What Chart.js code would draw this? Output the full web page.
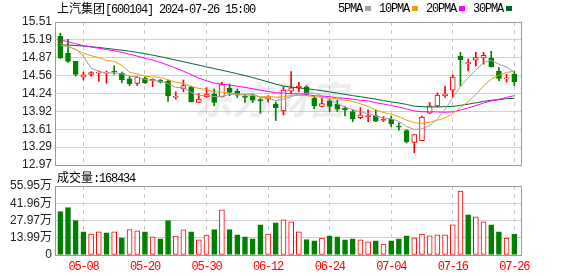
<!DOCTYPE html>
<html><head><meta charset="utf-8">
<script src="https://cdn.jsdelivr.net/npm/chart.js@4.4.1/dist/chart.umd.min.js"></script>
<style>
html,body{margin:0;padding:0;background:#fff;width:578px;height:276px;overflow:hidden}
#wrap{position:relative;width:578px;height:276px}
canvas{position:absolute;left:0;top:0}
.t{position:absolute;font-size:12px;line-height:14px;white-space:nowrap;color:#000}
.cn{font-family:"Noto Sans CJK SC"}
.m{font-family:"Liberation Mono";letter-spacing:-1.2px}
.sq{display:inline-block;width:6px;height:5px;margin:0 8px 2px 3px;vertical-align:middle}
</style></head><body>
<div id="wrap">
<canvas id="pc" width="578" height="276"></canvas>
<canvas id="vc" width="578" height="276"></canvas>
<div class="t" id="title" style="left:57px;top:1px"></div>
<div class="t" id="legend" style="left:338px;top:1px"></div>
<div class="t" id="volLabel" style="left:57px;top:170px"></div>
</div>
<script>
const stockName = '上汽集团';
const stockCode = '600104';
const stamp = '2024-07-26 15:00';
const lastVolume = 168434;

const dates = ['04-30','05-06','05-07','05-08','05-09','05-10','05-13','05-14','05-15','05-16',
  '05-17','05-20','05-21','05-22','05-23','05-24','05-27','05-28','05-29','05-30',
  '05-31','06-03','06-04','06-05','06-06','06-07','06-11','06-12','06-13','06-14',
  '06-17','06-18','06-19','06-20','06-21','06-24','06-25','06-26','06-27','06-28',
  '07-01','07-02','07-03','07-04','07-05','07-08','07-09','07-10','07-11','07-12',
  '07-15','07-16','07-17','07-18','07-19','07-22','07-23','07-24','07-25','07-26'];

const open = [15.26,14.96,14.81,14.53,14.58,14.60,14.60,14.64,14.60,14.50,
  14.42,14.51,14.47,14.48,14.46,14.17,14.32,14.36,14.08,14.18,
  14.23,14.18,14.33,14.28,14.19,14.20,14.13,14.14,14.05,13.93,
  14.28,14.34,14.36,14.16,14.01,14.11,14.05,13.98,13.92,13.81,
  13.83,13.85,13.76,13.78,13.66,13.58,13.37,13.40,13.89,14.02,
  14.20,14.30,14.90,14.77,14.83,14.87,14.87,14.64,14.50,14.58];
const close = [14.87,14.81,14.58,14.57,14.61,14.62,14.62,14.62,14.48,14.41,
  14.53,14.43,14.49,14.44,14.20,14.19,14.38,14.09,14.14,14.23,
  14.08,14.40,14.26,14.21,14.17,14.12,14.11,14.18,13.99,14.30,
  14.34,14.37,14.23,14.02,14.06,14.01,13.96,13.95,13.79,13.86,
  13.85,13.75,13.78,13.70,13.64,13.38,13.51,13.82,14.02,14.21,
  14.23,14.53,14.84,14.78,14.88,14.92,14.71,14.51,14.52,14.45];
const high = [15.31,15.20,14.81,14.62,14.63,14.64,14.64,14.73,14.62,14.54,
  14.54,14.54,14.50,14.49,14.48,14.27,14.48,14.37,14.24,14.34,
  14.32,14.44,14.41,14.32,14.23,14.23,14.15,14.20,14.09,14.36,
  14.63,14.44,14.38,14.20,14.15,14.14,14.12,14.01,13.95,13.99,
  13.95,13.95,13.83,13.84,13.72,13.60,13.51,13.84,14.08,14.25,
  14.37,14.57,14.97,14.85,14.97,14.97,14.99,14.70,14.58,14.63];
const low = [14.86,14.79,14.55,14.48,14.55,14.46,14.42,14.58,14.43,14.38,
  14.38,14.42,14.36,14.43,14.10,14.14,14.27,14.09,14.08,14.17,
  14.02,14.18,14.20,14.17,14.08,14.08,13.89,14.09,13.76,13.86,
  14.24,14.27,14.21,13.97,14.00,13.92,13.92,13.84,13.74,13.79,
  13.74,13.74,13.74,13.65,13.59,13.36,13.19,13.40,13.88,14.00,
  14.17,14.18,14.37,14.64,14.73,14.76,14.71,14.47,14.44,14.38];

const ma5 = [15.097,15.071,15.027,14.903,14.688,14.637,14.599,14.607,14.589,14.550,
  14.531,14.493,14.467,14.460,14.417,14.350,14.340,14.261,14.201,14.208,
  14.185,14.189,14.222,14.235,14.222,14.232,14.172,14.157,14.113,14.139,
  14.182,14.235,14.244,14.250,14.203,14.137,14.055,13.999,13.953,13.913,
  13.882,13.841,13.807,13.789,13.745,13.651,13.602,13.609,13.673,13.787,
  13.957,14.161,14.366,14.519,14.653,14.791,14.828,14.761,14.708,14.622];
const ma10 = [15.138,15.080,15.018,14.956,14.912,14.876,14.827,14.809,14.738,14.619,
  14.584,14.546,14.537,14.525,14.484,14.441,14.417,14.364,14.331,14.312,
  14.267,14.265,14.242,14.218,14.215,14.208,14.181,14.190,14.174,14.181,
  14.207,14.204,14.201,14.182,14.171,14.159,14.145,14.122,14.102,14.058,
  14.010,13.948,13.903,13.871,13.829,13.767,13.721,13.708,13.731,13.766,
  13.804,13.881,13.988,14.096,14.220,14.374,14.495,14.564,14.614,14.637];
const ma20 = [15.195,15.159,15.124,15.092,15.066,15.044,15.021,14.998,14.970,14.938,
  14.903,14.867,14.832,14.791,14.744,14.690,14.637,14.575,14.513,14.466,
  14.426,14.405,14.389,14.371,14.349,14.324,14.299,14.277,14.252,14.247,
  14.237,14.234,14.221,14.200,14.193,14.184,14.163,14.156,14.138,14.119,
  14.108,14.076,14.052,14.026,14.000,13.963,13.933,13.915,13.916,13.912,
  13.907,13.914,13.945,13.983,14.025,14.070,14.108,14.136,14.172,14.202];
const ma30 = [15.106,15.101,15.092,15.083,15.071,15.057,15.041,15.025,15.009,14.991,
  14.970,14.947,14.921,14.894,14.864,14.834,14.804,14.774,14.744,14.713,
  14.683,14.653,14.623,14.591,14.558,14.522,14.485,14.446,14.407,14.371,
  14.353,14.338,14.326,14.308,14.290,14.269,14.247,14.225,14.202,14.184,
  14.161,14.139,14.115,14.090,14.072,14.045,14.016,14.006,14.002,14.002,
  14.007,14.011,14.030,14.050,14.073,14.100,14.120,14.131,14.149,14.153];

// volume in 万
const volume = [35.2,38.4,27.9,18.8,17.0,18.8,18.0,18.8,14.0,20.7,
  19.6,18.8,14.8,13.2,27.9,15.3,20.4,18.8,12.4,16.1,
  20.7,36.6,20.7,16.4,14.8,13.2,24.5,17.0,26.1,28.5,
  26.9,18.8,12.6,11.5,13.7,15.6,14.8,12.4,13.2,12.4,
  10.7,11.5,8.9,11.5,13.2,15.6,14.0,17.0,15.6,16.4,
  16.4,24.5,51.9,32.5,30.9,26.9,24.5,18.8,13.7,16.8434];
const volUp = [0,0,0,0,1,1,0,1,0,1, 1,0,1,0,0,1,1,0,1,1, 0,1,0,0,0,0,0,1,0,1,
  1,1,0,0,1,0,0,0,0,1, 1,0,1,0,0,0,1,1,1,1, 1,1,1,0,1,1,0,0,1,0];

const priceTicks = ['12.97','13.29','13.61','13.92','14.24','14.56','14.87','15.19','15.51'];
const volTicks = ['0','13.99万','27.97万','41.96万','55.95万'];
const xTickDates = ['05-08','05-20','05-30','06-12','06-24','07-04','07-16','07-26'];
const maNames = ['5PMA','10PMA','20PMA','30PMA'];

const RED = '#ff0000', GREEN = '#008000';
const maColors = ['#a0a0a0','#f0a000','#ff00ff','#006633'];

document.getElementById('title').innerHTML =
  '<span class="cn">' + stockName + '</span><span class="m">[' + stockCode + '] ' + stamp + '</span>';
document.getElementById('legend').innerHTML = maNames.map((n, k) =>
  '<span class="m">' + n + '</span><span class="sq" style="background:' + maColors[k] + '"></span>').join('');
document.getElementById('volLabel').innerHTML =
  '<span class="cn">成交量</span><span class="m">:' + lastVolume + '</span>';

const up = i => close[i] >= open[i];
const xIdx = xTickDates.map(d => dates.indexOf(d));
const X_MIN = -0.69, X_MAX = 60.0;
const PMIN = 12.97, PMAX = 15.51;
const VMAX = 55.95;

const framePlugin = {
  id: 'frame',
  afterDraw(chart) {
    const a = chart.chartArea, c = chart.ctx;
    c.save();
    c.strokeStyle = '#999';
    c.lineWidth = 1;
    c.strokeRect(Math.round(a.left) + 0.5, Math.round(a.top) + 0.5,
      Math.round(a.right - a.left) - 1, Math.round(a.bottom - a.top));
    c.restore();
    c.letterSpacing = '0px';
  }
};
const watermark = {
  id: 'wm',
  beforeDatasetsDraw(chart) {
    const a = chart.chartArea, c = chart.ctx;
    c.save();
    c.font = 'italic bold 38px "Noto Sans CJK SC"';
    c.fillStyle = 'rgba(170,170,190,0.22)';
    c.textAlign = 'center';
    c.textBaseline = 'middle';
    c.fillText('东方财富', (a.left + a.right) / 2 - 18, (a.top + a.bottom) / 2 + 6);
    c.restore();
  }
};
const spacing = {
  id: 'sp',
  afterDatasetsDraw(chart) { chart.ctx.letterSpacing = '-1.2px'; }
};

const xScaleBase = (showLabels, h) => ({
  type: 'linear', min: X_MIN, max: X_MAX, offset: false,
  afterBuildTicks: s => { s.ticks = xIdx.map(v => ({ value: v })); },
  afterFit: s => { s.height = h; },
  grid: { display: true, color: '#c8c8c8', drawTicks: false, offset: false, lineWidth: 1 },
  border: { display: false, dash: [4, 4] },
  ticks: {
    display: showLabels, z: 1, padding: 5, maxRotation: 0, autoSkip: false,
    color: RED, font: { family: '"Liberation Mono"', size: 12 },
    callback: v => dates[v]
  }
});

new Chart(document.getElementById('pc'), {
  data: {
    datasets: [
      { type: 'line', data: ma5.map((v, i) => ({ x: i, y: v })), borderColor: maColors[0], borderWidth: 1, pointRadius: 0, order: 0 },
      { type: 'line', data: ma10.map((v, i) => ({ x: i, y: v })), borderColor: maColors[1], borderWidth: 1, pointRadius: 0, order: 0 },
      { type: 'line', data: ma20.map((v, i) => ({ x: i, y: v })), borderColor: maColors[2], borderWidth: 1, pointRadius: 0, order: 0 },
      { type: 'line', data: ma30.map((v, i) => ({ x: i, y: v })), borderColor: maColors[3], borderWidth: 1, pointRadius: 0, order: 0 },
      { type: 'bar', data: dates.map((d, i) => ({ x: i, y: [open[i], close[i]] })),
        barThickness: 5, grouped: false, borderSkipped: false, minBarLength: 1, borderWidth: 1,
        backgroundColor: c => up(c.dataIndex) ? '#ffffff' : GREEN,
        borderColor: c => up(c.dataIndex) ? RED : GREEN, order: 2 },
      { type: 'bar', data: dates.map((d, i) => ({ x: i, y: [low[i], high[i]] })),
        barThickness: 1, grouped: false, borderWidth: 0,
        backgroundColor: c => up(c.dataIndex) ? RED : GREEN, order: 3 }
    ]
  },
  options: {
    responsive: false, animation: false, devicePixelRatio: 1,
    layout: { padding: { top: 22, right: 56, bottom: 111, left: 0 } },
    plugins: { legend: { display: false }, tooltip: { enabled: false } },
    scales: {
      x: xScaleBase(false, 0),
      y: {
        type: 'linear', min: PMIN, max: PMAX,
        afterBuildTicks: s => { s.ticks = priceTicks.map((t, k) => ({ value: PMIN + k * (PMAX - PMIN) / 8 })); },
        afterFit: s => { s.width = 55; },
        grid: { color: '#d0d0d0', drawTicks: false, lineWidth: 1 },
        border: { display: false },
        ticks: { padding: 3, autoSkip: false, color: '#222', font: { family: '"Liberation Sans"', size: 12 },
          callback: (v, k) => priceTicks[k] }
      }
    }
  },
  plugins: [watermark, framePlugin]
});

new Chart(document.getElementById('vc'), {
  data: {
    datasets: [
      { type: 'bar', data: volume.map((v, i) => ({ x: i, y: v })),
        barThickness: 5, grouped: false, borderSkipped: false, borderWidth: 1,
        backgroundColor: c => volUp[c.dataIndex] ? '#ffffff' : GREEN,
        borderColor: c => volUp[c.dataIndex] ? RED : GREEN }
    ]
  },
  options: {
    responsive: false, animation: false, devicePixelRatio: 1,
    layout: { padding: { top: 186, right: 56, bottom: 0, left: 0 } },
    plugins: { legend: { display: false }, tooltip: { enabled: false } },
    scales: {
      x: xScaleBase(true, 21),
      y: {
        type: 'linear', min: 0, max: VMAX,
        afterBuildTicks: s => { s.ticks = volTicks.map((t, k) => ({ value: k * VMAX / 4 })); },
        afterFit: s => { s.width = 55; },
        grid: { color: '#d0d0d0', drawTicks: false, lineWidth: 1 },
        border: { display: false },
        ticks: { padding: 3, autoSkip: false, color: '#222', font: { family: '"Liberation Sans", "Noto Sans CJK SC"', size: 12 },
          callback: (v, k) => volTicks[k] }
      }
    }
  },
  plugins: [spacing, framePlugin]
});
</script>
</body></html>
